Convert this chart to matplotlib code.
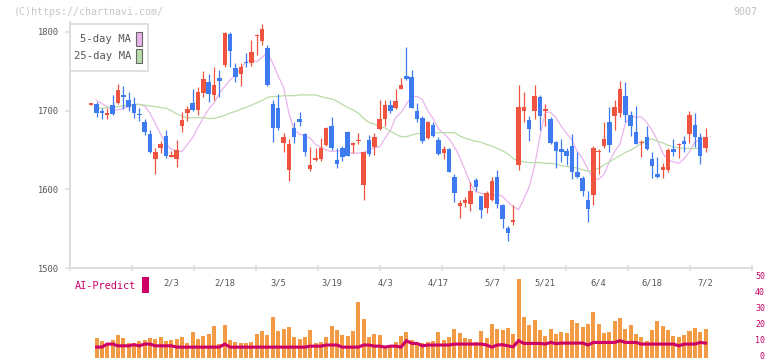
import numpy as np
import matplotlib.pyplot as plt
from matplotlib.patches import Rectangle
from matplotlib.transforms import offset_copy

# daily OHLC (one entry per session, first one has no AI/volume bar)
opens = [1708, 1708, 1700, 1694, 1707, 1710, 1720, 1713, 1708, 1696,
         1686, 1670, 1639, 1652, 1668, 1642, 1639, 1681, 1697, 1710,
         1701, 1723, 1736, 1720, 1742, 1758, 1798, 1754, 1747, 1762,
         1760, 1795, 1788, 1780, 1709, 1703, 1659, 1625, 1678, 1690,
         1670, 1626, 1638, 1638, 1656, 1680, 1637, 1652, 1673, 1657,
         1662, 1605, 1663, 1654, 1677, 1689, 1707, 1704, 1727, 1744,
         1743, 1700, 1691, 1665, 1682, 1663, 1646, 1651, 1616, 1579,
         1583, 1581, 1612, 1591, 1576, 1586, 1616, 1580, 1551, 1558,
         1631, 1699, 1688, 1699, 1717, 1699, 1689, 1660, 1651, 1649,
         1655, 1622, 1615, 1586, 1593, 1648, 1655, 1685, 1693, 1697,
         1719, 1694, 1673, 1659, 1667, 1639, 1620, 1625, 1625, 1651,
         1656, 1661, 1670, 1682, 1667, 1653]
highs = [1710, 1711, 1704, 1704, 1720, 1734, 1731, 1724, 1717, 1704,
         1690, 1675, 1652, 1661, 1675, 1649, 1663, 1698, 1706, 1727,
         1730, 1750, 1747, 1756, 1752, 1800, 1800, 1760, 1760, 1773,
         1790, 1798, 1810, 1784, 1714, 1721, 1672, 1664, 1685, 1698,
         1672, 1654, 1652, 1665, 1679, 1692, 1652, 1655, 1674, 1660,
         1672, 1648, 1669, 1672, 1714, 1713, 1713, 1727, 1741, 1781,
         1752, 1710, 1693, 1687, 1686, 1667, 1655, 1653, 1620, 1586,
         1590, 1609, 1615, 1592, 1598, 1616, 1625, 1581, 1553, 1580,
         1733, 1724, 1693, 1733, 1720, 1708, 1692, 1662, 1664, 1652,
         1670, 1648, 1617, 1598, 1655, 1651, 1686, 1705, 1713, 1738,
         1737, 1699, 1706, 1663, 1681, 1647, 1641, 1633, 1652, 1664,
         1659, 1668, 1700, 1697, 1672, 1678]
lows = [1707, 1692, 1690, 1690, 1695, 1709, 1702, 1700, 1691, 1687,
        1669, 1646, 1620, 1646, 1640, 1641, 1629, 1673, 1687, 1699,
        1694, 1718, 1711, 1714, 1717, 1756, 1755, 1737, 1731, 1755,
        1757, 1771, 1784, 1731, 1660, 1675, 1647, 1610, 1659, 1680,
        1642, 1623, 1636, 1636, 1655, 1650, 1627, 1636, 1642, 1646,
        1658, 1586, 1643, 1644, 1676, 1680, 1697, 1702, 1727, 1739,
        1704, 1685, 1659, 1664, 1666, 1644, 1638, 1622, 1584, 1564,
        1578, 1572, 1598, 1563, 1570, 1585, 1576, 1551, 1534, 1555,
        1624, 1685, 1662, 1689, 1675, 1680, 1658, 1627, 1635, 1631,
        1613, 1615, 1592, 1559, 1580, 1619, 1653, 1648, 1676, 1692,
        1686, 1668, 1657, 1641, 1650, 1615, 1615, 1615, 1622, 1643,
        1640, 1647, 1659, 1654, 1632, 1647]
closes = [1709, 1697, 1697, 1697, 1696, 1726, 1717, 1705, 1697, 1694,
          1673, 1647, 1647, 1658, 1642, 1643, 1650, 1688, 1702, 1701,
          1724, 1740, 1721, 1733, 1738, 1799, 1776, 1743, 1756, 1760,
          1775, 1796, 1804, 1732, 1678, 1678, 1666, 1657, 1667, 1686,
          1647, 1631, 1639, 1652, 1678, 1652, 1632, 1641, 1643, 1658,
          1663, 1647, 1645, 1667, 1689, 1707, 1699, 1712, 1733, 1740,
          1704, 1690, 1661, 1686, 1668, 1645, 1651, 1622, 1595, 1583,
          1586, 1598, 1603, 1574, 1595, 1611, 1581, 1562, 1545, 1561,
          1705, 1705, 1677, 1719, 1693, 1702, 1659, 1649, 1648, 1642,
          1622, 1616, 1598, 1575, 1653, 1649, 1664, 1656, 1705, 1728,
          1694, 1681, 1658, 1660, 1651, 1630, 1616, 1628, 1650, 1647,
          1658, 1657, 1694, 1666, 1643, 1666]

# moving averages (from session 1 on)
ma5 = [1713, 1709, 1705, 1701, 1701, 1703, 1705, 1707, 1708, 1706,
       1697, 1684, 1670, 1657, 1651, 1649, 1648, 1657, 1666, 1679,
       1691, 1702, 1710, 1722, 1731, 1739, 1745, 1753, 1762, 1765,
       1762, 1768, 1774, 1760, 1744, 1730, 1697, 1675, 1670, 1668,
       1665, 1657, 1653, 1650, 1648, 1649, 1649, 1647, 1646, 1646,
       1647, 1650, 1653, 1654, 1665, 1675, 1691, 1698, 1708, 1718,
       1718, 1714, 1700, 1690, 1677, 1671, 1664, 1654, 1641, 1624,
       1607, 1597, 1595, 1593, 1592, 1594, 1591, 1584, 1578, 1574,
       1588, 1603, 1630, 1667, 1698, 1698, 1691, 1680, 1671, 1663,
       1648, 1639, 1625, 1613, 1613, 1619, 1635, 1648, 1658, 1684,
       1692, 1692, 1692, 1685, 1675, 1662, 1646, 1637, 1635, 1633,
       1639, 1648, 1660, 1663, 1665]
ma25 = [1703, 1703, 1704, 1704, 1705, 1706, 1707, 1708, 1708, 1707,
        1706, 1705, 1704, 1703, 1700, 1696, 1693, 1691, 1691, 1691,
        1691, 1690, 1690, 1692, 1694, 1697, 1699, 1702, 1704, 1707,
        1710, 1713, 1717, 1718, 1718, 1719, 1719, 1719, 1720, 1720,
        1720, 1720, 1718, 1716, 1715, 1712, 1708, 1704, 1701, 1697,
        1690, 1685, 1683, 1680, 1678, 1674, 1670, 1667, 1667, 1669,
        1671, 1671, 1671, 1672, 1672, 1672, 1672, 1672, 1668, 1665,
        1663, 1661, 1660, 1657, 1655, 1652, 1649, 1645, 1639, 1636,
        1635, 1634, 1634, 1634, 1633, 1633, 1632, 1630, 1629, 1628,
        1627, 1625, 1623, 1624, 1627, 1631, 1635, 1639, 1643, 1647,
        1650, 1654, 1658, 1663, 1664, 1661, 1659, 1656, 1654, 1653,
        1652, 1652, 1652, 1652]

# AI-Predict panel (sessions 1..115)
volume = [12.8, 10.9, 9.9, 11.5, 14.7, 12.8, 9.9, 9.5, 10.9, 11.5,
          12.8, 12.2, 13.4, 10.9, 11.5, 12.2, 13.4, 9.7, 16.5, 12.2,
          14.0, 15.3, 20.3, 9.0, 20.9, 11.5, 10.3, 9.7, 9.7, 10.3,
          15.3, 17.1, 14.7, 25.9, 17.1, 18.4, 19.6, 13.4, 12.2, 13.4,
          17.8, 9.7, 10.3, 13.4, 20.3, 17.8, 14.7, 14.0, 17.1, 35.2,
          24.6, 13.4, 15.3, 14.7, 7.8, 8.4, 10.3, 14.0, 16.5, 11.5,
          9.7, 9.7, 10.3, 10.9, 16.5, 11.5, 13.4, 18.4, 15.9, 12.8,
          12.2, 10.3, 17.1, 12.8, 21.5, 18.4, 17.8, 19.0, 15.3, 49.6,
          25.9, 20.9, 24.0, 17.8, 14.0, 18.4, 15.3, 16.5, 15.9, 24.0,
          22.3, 19.6, 21.5, 29.0, 21.5, 15.9, 16.5, 23.4, 25.2, 18.4,
          20.9, 15.3, 13.4, 10.9, 17.8, 23.4, 20.3, 17.8, 14.0, 13.4,
          14.7, 17.1, 19.0, 16.5, 18.4]
ai_predict = [7.1, 7.1, 9.0, 9.0, 7.9, 7.9, 7.9, 8.6, 7.9, 9.0,
              9.0, 7.9, 7.9, 7.9, 7.9, 7.1, 7.1, 7.1, 7.1, 7.1,
              7.1, 7.1, 7.1, 7.1, 9.0, 7.1, 7.1, 7.1, 7.1, 7.1,
              7.1, 7.1, 7.1, 7.1, 7.1, 7.1, 7.1, 7.1, 7.1, 7.1,
              7.7, 7.7, 7.7, 8.4, 8.4, 8.4, 7.1, 7.1, 7.1, 7.1,
              8.4, 8.4, 7.7, 7.7, 7.1, 7.7, 7.7, 7.1, 11.1, 9.4,
              9.4, 7.9, 8.4, 8.4, 8.4, 8.4, 8.4, 9.0, 9.0, 9.0,
              9.0, 9.0, 9.0, 8.4, 7.1, 8.4, 8.6, 7.9, 7.3, 11.1,
              9.4, 9.4, 9.4, 9.4, 9.0, 10.0, 9.3, 9.6, 9.6, 9.6,
              9.6, 9.6, 8.4, 10.0, 10.0, 10.0, 10.0, 10.0, 11.1, 10.0,
              10.0, 10.0, 9.0, 9.0, 9.0, 9.0, 9.0, 9.0, 9.0, 7.9,
              9.0, 9.0, 9.0, 10.0, 9.6]

date_labels = ["2/3", "2/18", "3/5", "3/19", "4/3", "4/17",
               "5/7", "5/21", "6/4", "6/18", "7/2"]
date_index = [15, 25, 35, 45, 55, 65, 75, 85, 95, 105, 115]
price_ticks = [1500, 1600, 1700, 1800]
ai_ticks = [0, 10, 20, 30, 40, 50]

RED = '#f0533f'
BLUE = '#3f7bf0'
PINK = '#e8b4ec'
GREEN = '#b8dca8'
ORANGE = '#f29a44'
MAGENTA = '#cc0066'
GRID = '#dddddd'
TXT = '#555555'
MONO = 'DejaVu Sans Mono'

W, H = 772, 361
fig = plt.figure(figsize=(W / 100, H / 100), dpi=100)

def fx(px):
    return px / W

def fy(py):
    return 1 - py / H

# ---- price panel ----
ax = fig.add_axes([fx(70), fy(268), 682 / W, 246 / H])
x = np.arange(len(opens))
o = np.array(opens, float)
c = np.array(closes, float)
colors = np.where(c >= o, RED, BLUE)

ax.vlines(x, lows, highs, colors=colors, lw=0.9, zorder=3)
body_h = np.maximum(np.abs(c - o), 1.6)
mid = (o + c) / 2
ax.bar(x, body_h, 0.84, bottom=mid - body_h / 2, color=colors, zorder=4)

ax.plot(np.arange(1, 1 + len(ma5)), ma5, color=PINK, lw=0.9, zorder=2)
ax.plot(np.arange(1, 1 + len(ma25)), ma25, color=GREEN, lw=0.9, zorder=2)

ax.set_xlim(-3.97, 123.7)
ax.set_ylim(1500, 1812.7)
for s in ['top', 'right']:
    ax.spines[s].set_visible(False)
for s in ['left', 'bottom']:
    ax.spines[s].set_color(GRID)
    ax.spines[s].set_linewidth(1.4)

ax.set_yticks(price_ticks)
ax.set_yticklabels([str(v) for v in price_ticks], family=MONO, fontsize=6.3,
                   color=TXT)
ax.tick_params(axis='y', length=3.8, width=1.1, color=GRID, pad=4)

x0, x1 = ax.get_xlim()
ax.set_xticks(np.linspace(x0, x1, 12))
ax.set_xticklabels([])
ax.tick_params(axis='x', direction='inout', length=4, width=1.1, color=GRID)
for j, lab in zip(date_index, date_labels):
    ax.text(j, -0.059, lab, transform=ax.get_xaxis_transform(), ha='center',
            va='center', family=MONO, fontsize=6.3, color=TXT)

# legend box
fig.add_artist(Rectangle((fx(70), fy(71)), 78 / W, 47 / H, transform=fig.transFigure,
                         facecolor='white', edgecolor=GRID, lw=1.3, zorder=10))
for py, lab, col in [(39, '5-day MA', PINK), (56, '25-day MA', GREEN)]:
    fig.text(fx(131), fy(py), lab, ha='right', va='center', family=MONO,
             fontsize=7.6, color=TXT, zorder=11)
    fig.add_artist(Rectangle((fx(136), fy(py + 7)), 6 / W, 14 / H,
                             transform=fig.transFigure, facecolor=col,
                             edgecolor='#666666', lw=0.8, zorder=11))

# header
fig.text(fx(14), fy(12), '(C)https://chartnavi.com/', ha='left', va='center',
         family=MONO, fontsize=7.2, color='#c8c8c8')
fig.text(fx(757), fy(12), '9007', ha='right', va='center', family=MONO,
         fontsize=7.2, color='#c0c0c0')

# ---- AI-Predict panel ----
ax2 = fig.add_axes([fx(70), 0, 682 / W, 91 / H])
xa = np.arange(1, 1 + len(volume))
ax2.bar(xa, volume, 0.75, color=ORANGE, zorder=2)
ax2.plot(xa, ai_predict, color=MAGENTA, lw=2.2, zorder=3,
         solid_joinstyle='miter')
ax2.set_xlim(x0, x1)
ax2.set_ylim(-1.56, 55.17)
ax2.axis('off')
lab_tr = offset_copy(ax2.get_yaxis_transform(), fig=fig, y=1.6, units='dots')
for v in ai_ticks:
    ax2.text(1.019, v, str(v), transform=lab_tr, ha='right',
             va='center', family=MONO, fontsize=6.0, color=MAGENTA)

fig.text(fx(105), fy(286), 'AI-Predict', ha='center', va='center', family=MONO,
         fontsize=7.4, color=MAGENTA)
fig.add_artist(Rectangle((fx(142), fy(293)), 7 / W, 16 / H,
                         transform=fig.transFigure, facecolor=MAGENTA,
                         edgecolor='none'))

fig.savefig('out.png', dpi=100)
